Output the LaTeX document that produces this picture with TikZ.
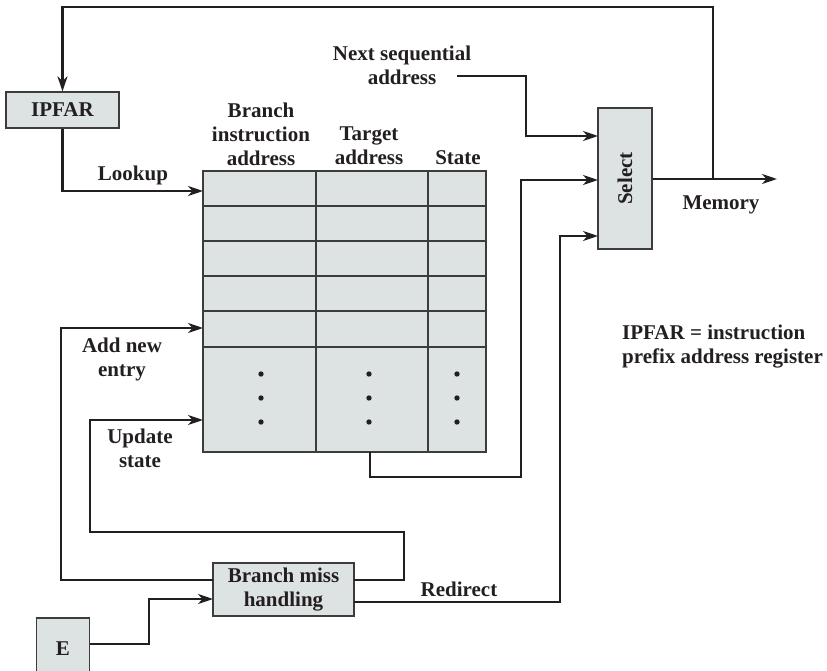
\documentclass[tikz,border=0pt]{standalone}
\usepackage{graphicx}
\usepackage{fontspec}
\setmainfont{Liberation Serif}
\usepackage{tikz}
\usetikzlibrary{arrows.meta}
\definecolor{btbfill}{RGB}{221,227,227}
\definecolor{btbedge}{RGB}{60,60,62}
\definecolor{btbink}{RGB}{35,31,32}

\begin{document}
\begin{tikzpicture}[x=1pt,y=-1pt,
  txt/.style={font=\fontsize{21}{24}\selectfont\bfseries,text=btbink,align=center,inner sep=0pt},
  box/.style={txt,draw=btbedge,fill=btbfill,line width=1.2pt},
  flow/.style={draw=btbink,line width=2.3pt,-{Stealth[length=15pt,width=10pt,inset=4.5pt]}}]
  \useasboundingbox (0,0) rectangle (827,671);
  % boxes
  \node[box,minimum width=113,minimum height=36] (ipfar) at (62.5,110) {IPFAR};
  \node[box,minimum width=54,minimum height=141] (sel) at (625,178.5) {\rotatebox{90}{Select}};
  \node[box,minimum width=141,minimum height=53] (bmh) at (283.5,589.5) {Branch miss\\handling};
  \node[box,minimum width=53,minimum height=62] (e) at (63,649) {E};
  % branch target buffer
  \fill[btbfill] (203,171) rectangle (486,452);
  \foreach \y in {206,241,276,311,347} \draw[btbedge,line width=1.2pt] (203,\y) -- (486,\y);
  \foreach \x in {316,428} \draw[btbedge,line width=1.2pt] (\x,171) -- (\x,452);
  \draw[btbedge,line width=1.2pt] (203,171) rectangle (486,452);
  \foreach \x in {261,369,457} \foreach \y in {374,398,422} \fill[btbink] (\x,\y) circle (2.7);
  % labels
  \node[txt] (hbia) at (261,134) {Branch\\instruction\\address};
  \node[txt] (hta) at (369,146) {Target\\address};
  \node[txt] (hst) at (458,158) {State};
  \node[txt] (nsa) at (402,65) {Next sequential\\address};
  \node[txt] (lookup) at (133,175) {Lookup};
  \node[txt] (addnew) at (122,359) {Add new\\entry};
  \node[txt] (updst) at (140,448) {Update\\state};
  \node[txt] (memory) at (721,205) {Memory};
  \node[txt] (redirect) at (459,589) {Redirect};
  \node[txt,align=left,anchor=west] (legend) at (622,347) {IPFAR = instruction\\prefix address register};
  % connector ends
  \coordinate (lookin) at (203,191);
  \coordinate (addin) at (203,328);
  \coordinate (updin) at (203,420);
  \coordinate (tgtout) at (370,452);
  \coordinate (nsaout) at (457,76);
  \coordinate (selnsa) at (598,136);
  \coordinate (seltgt) at (598,180);
  \coordinate (selred) at (598,236);
  \coordinate (split) at (713,179);
  \coordinate (mem) at (777,179);
  \coordinate (bmhup) at (354,580);
  \coordinate (bmhred) at (354,602);
  \coordinate (bmhadd) at (213,580);
  \coordinate (bmhin) at (213,599);
  % connectors
  \draw[flow] (sel.east |- split) -- (mem);
  \draw[flow] (split) -- (713,7) -| (ipfar.north);
  \draw[flow] (ipfar.south) |- (lookin);
  \draw[flow] (nsaout) -| (526,136) -- (selnsa);
  \draw[flow] (tgtout) |- (521,477) |- (seltgt);
  \draw[flow] (bmhred) -| (560,236) -- (selred);
  \draw[flow] (bmhup) -| (404,532) -| (90,420) -- (updin);
  \draw[flow] (bmhadd) -| (61,328) -- (addin);
  \draw[flow] (e.east |- 0,644) -| (149,599) -- (bmhin);
\end{tikzpicture}
\end{document}
